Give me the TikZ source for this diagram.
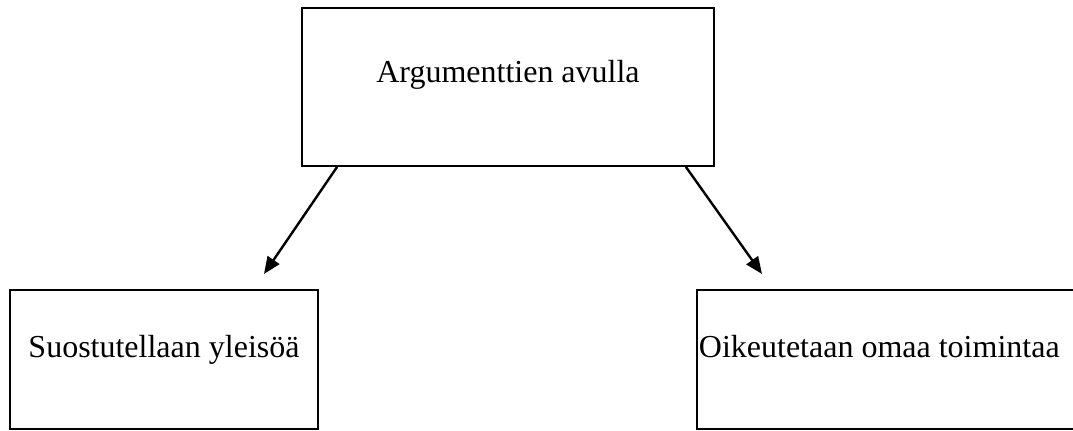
\documentclass[tikz,border=0pt]{standalone}
\usepackage{fontspec}
\setmainfont{Liberation Serif}
\usetikzlibrary{arrows.meta,calc}
\tikzset{
	box/.style={draw, rectangle, line width=0.9pt, inner sep=0pt, font=\fontsize{16}{19}\selectfont, text height=11pt},
	arr/.style={line width=1.2pt, -{Triangle[length=8.5pt,width=7pt]}}
}
\begin{document}
\begin{tikzpicture}[x=0.5pt,y=-0.5pt]
		%%%%% START %%%%%
		\useasboundingbox (0,0) rectangle (1073,430);
		
		\node[box, minimum width=206pt, minimum height=79pt, text depth=16pt] (arg) at (508,87) {Argumenttien avulla};
		
		\node[box, minimum width=154pt, minimum height=69.5pt, text depth=13.5pt] (suo) at (164,359.5) {Suostutellaan yleisöä};
		\node[box, anchor=west, inner xsep=1pt, text width=200pt, align=flush left, minimum height=69.5pt, text depth=13.5pt] (oik) at (696,359.5) {Oikeutetaan omaa toimintaa};
		
		\coordinate (tipl) at (264,274);
		\coordinate (tipr) at (762,274);
		\draw[arr] ($(arg.south west)+(36,0)$) -- (tipl);
		\draw[arr] ($(arg.south east)+(-29,0)$) -- (tipr);
		%%%%% END %%%%%
\end{tikzpicture}
\end{document}
